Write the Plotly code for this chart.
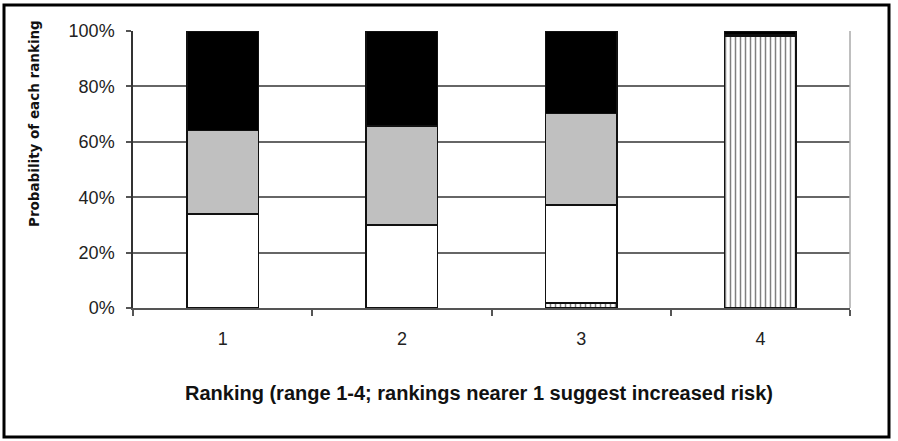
import plotly.graph_objects as go

rankings = ["1", "2", "3", "4"]
striped = [0, 0, 1.8, 98]
white = [34, 30, 35.3, 0.5]
grey = [30, 35.7, 33.2, 0]
black = [36, 34.3, 29.7, 1.5]
y_ticks = [0, 20, 40, 60, 80, 100]
y_labels = ["0%", "20%", "40%", "60%", "80%", "100%"]

L, R, T, B = 133, 48, 31, 133
W, H = 898, 441
pw, ph = W - L - R, H - T - B

def px_x(px):
    return (px - L) / pw

def px_y(py):
    return (H - B - py) / ph

line = dict(color="#111111", width=1.5)
fig = go.Figure()
fig.add_bar(x=rankings, y=striped, marker=dict(color="white", line=line,
            pattern=dict(shape="|", fgcolor="black", bgcolor="white", size=5, solidity=0.3)))
fig.add_bar(x=rankings, y=white, marker=dict(color="#ffffff", line=line))
fig.add_bar(x=rankings, y=grey, marker=dict(color="#c0c0c0", line=line))
fig.add_bar(x=rankings, y=black, marker=dict(color="#000000", line=line))

fig.update_layout(
    barmode="stack", bargap=0.6, showlegend=False,
    width=W, height=H, margin=dict(l=L, r=R, t=T, b=B),
    paper_bgcolor="white", plot_bgcolor="white",
    font=dict(family="Liberation Sans, Arial", color="#222222"),
    xaxis=dict(type="category", range=[-0.5, 3.5], tickson="boundaries",
               ticks="outside", ticklen=6, tickcolor="#555555", tickwidth=1.5,
               showline=True, linecolor="#555555", linewidth=2, showgrid=False,
               tickfont=dict(size=18, color="#222222"), ticklabelstandoff=13),
    yaxis=dict(range=[0, 100], tickvals=y_ticks, ticktext=y_labels,
               ticks="outside", ticklen=5, tickcolor="#555555", tickwidth=1.5,
               showline=True, linecolor="#333333", linewidth=1.5,
               showgrid=True, gridcolor="#666666", gridwidth=1.5, zeroline=False,
               tickfont=dict(size=18, color="#222222"), ticklabelstandoff=8),
    annotations=[
        dict(text="<b>Probability of each ranking</b>", textangle=-90,
             xref="paper", yref="paper", x=px_x(34), y=px_y(124),
             xanchor="center", yanchor="middle",
             showarrow=False, font=dict(family="DejaVu Sans", size=13.5, color="#111111")),
        dict(text="<b>Ranking (range 1-4; rankings nearer 1 suggest increased risk)</b>",
             xref="paper", yref="paper", x=px_x(479), y=px_y(393),
             xanchor="center", yanchor="middle",
             showarrow=False, font=dict(family="Liberation Sans, Arial", size=20, color="#111111")),
    ],
    shapes=[
        dict(type="line", xref="paper", yref="paper", x0=1, x1=1, y0=0, y1=1,
             line=dict(color="#aaaaaa", width=1.5)),
        dict(type="rect", xref="paper", yref="paper", x0=px_x(4), x1=px_x(889),
             y0=px_y(437), y1=px_y(5), line=dict(color="black", width=3)),
    ],
)
fig.write_html("out.html", config={"displayModeBar": False},
               post_script="document.body.style.margin='0';")
